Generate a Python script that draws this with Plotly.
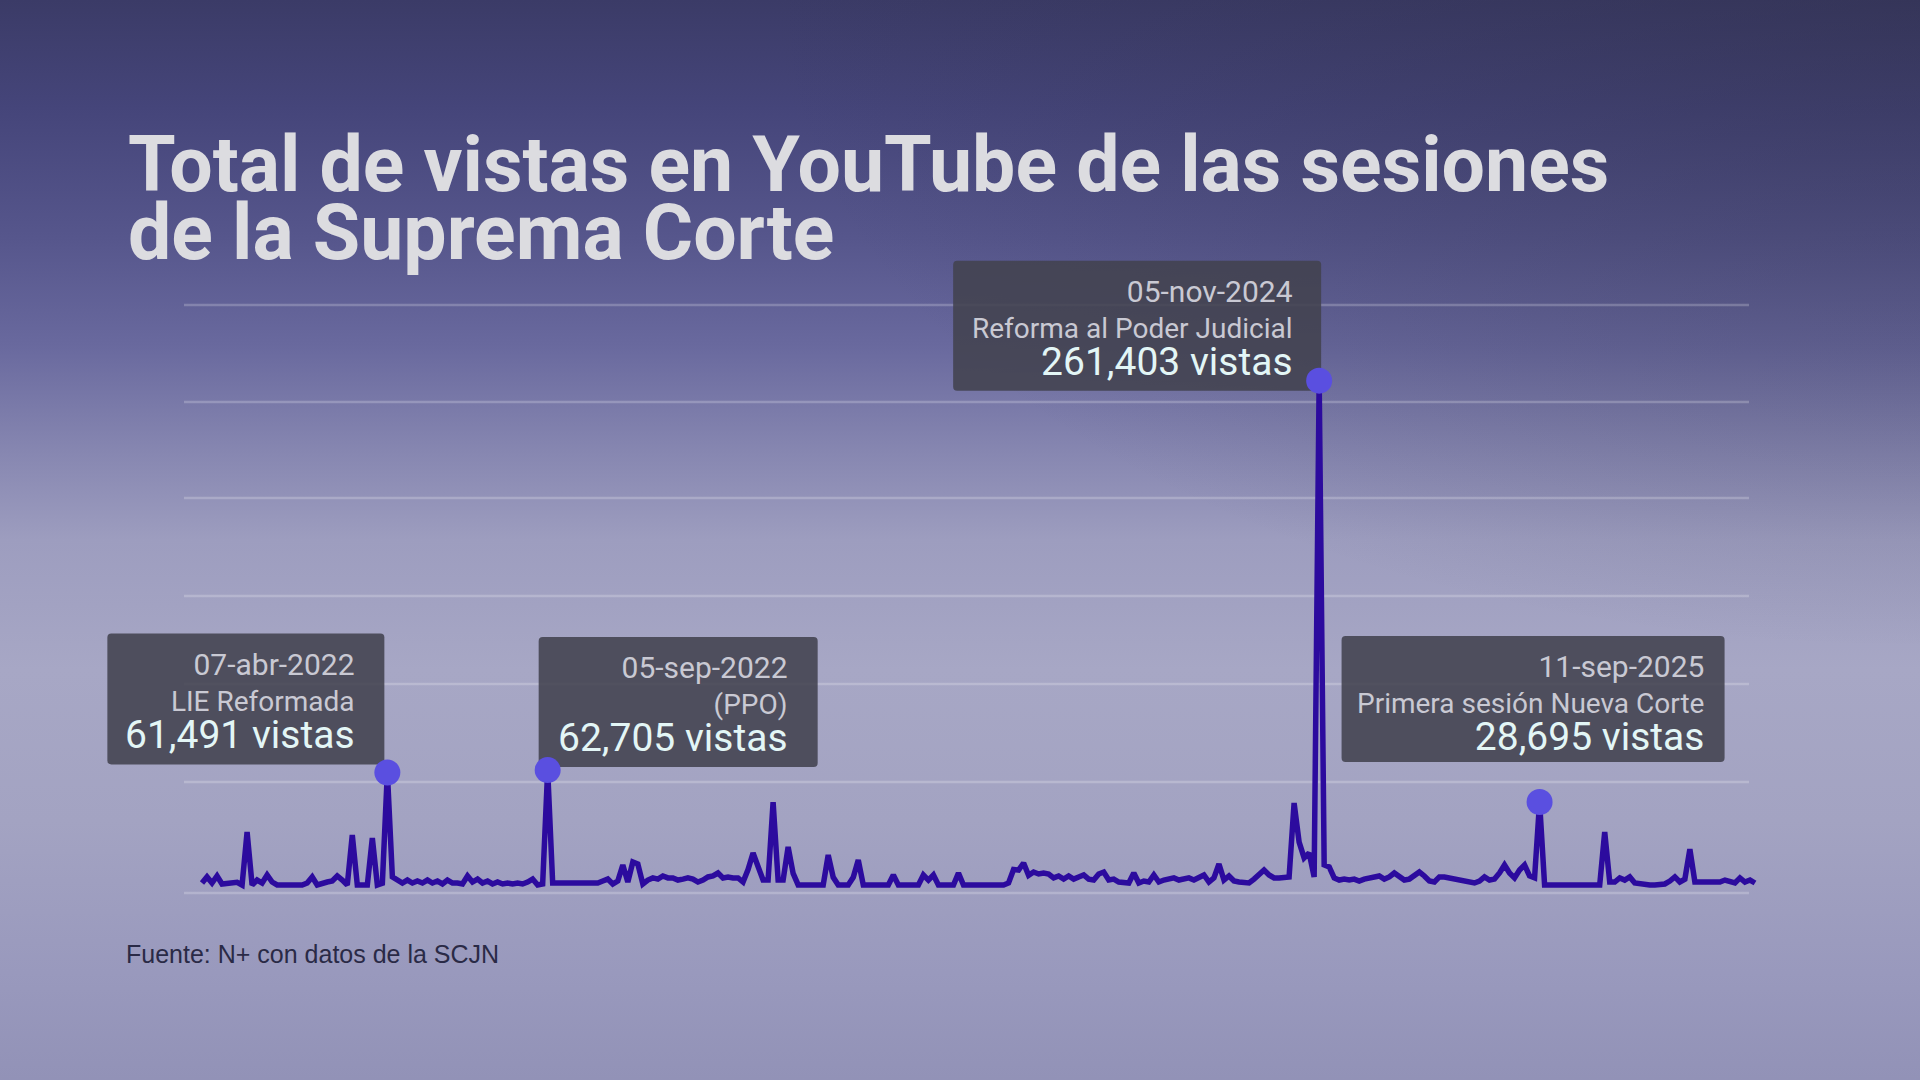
import base64
import plotly.graph_objects as go

# ---------------- data ----------------
views = [
    5100, 8200, 5100, 8700, 4600, 5100, 5600, 5500, 4100, 31100,
    4100, 6600, 5100, 9200, 5600, 4100, 4100, 4100, 4100, 4100,
    4100, 5100, 8200, 4100, 5100, 5600, 6100, 8700, 6600, 4100,
    29600, 4100, 4100, 4100, 28000, 4100, 5000, 61491, 8200, 6600,
    5100, 6600, 5100, 6100, 5100, 6600, 5100, 6100, 4600, 6600,
    5100, 5100, 4600, 8700, 5600, 7100, 5100, 6100, 4600, 5600,
    4600, 5100, 4600, 5100, 4600, 5600, 7100, 4100, 4600, 62705,
    5100, 5100, 5100, 5100, 5100, 5100, 5100, 5100, 5100, 5100,
    6100, 7100, 4600, 6100, 14300, 5600, 15800, 14800, 4600, 6600,
    7700, 7100, 8700, 7700, 7700, 6600, 7100, 7700, 7100, 5600,
    6600, 8200, 8700, 10200, 7700, 8200, 7700, 7700, 5600, 12000,
    20400, 13000, 6600, 6600, 46400, 6600, 6600, 23500, 10000, 4100,
    4100, 4100, 4100, 4100, 4100, 19400, 8000, 4100, 4100, 4100,
    8000, 16800, 4100, 4100, 4100, 4100, 4100, 4100, 9200, 4100,
    4100, 4100, 4100, 4100, 9200, 6600, 9200, 4100, 4100, 4100,
    4100, 10200, 4100, 4100, 4100, 4100, 4100, 4100, 4100, 4100,
    4100, 5100, 12000, 11700, 15300, 9000, 10700, 9700, 10200, 9700,
    7700, 8700, 7100, 8700, 7100, 8200, 9200, 7100, 6600, 9700,
    10700, 6600, 7100, 5600, 5600, 5100, 10200, 5100, 6100, 5600,
    9200, 5600, 6600, 7100, 7700, 6600, 7100, 7700, 6600, 8200,
    9200, 5600, 7700, 14800, 6600, 8700, 6100, 5600, 5600, 5100,
    7100, 9700, 11700, 9200, 7700, 7700, 7700, 8200, 45900, 26000,
    17900, 20400, 8200, 261403, 14300, 13300, 7700, 6600, 7100, 6600,
    7100, 6100, 7100, 7700, 8200, 8700, 7100, 8200, 10200, 8700,
    6600, 7100, 8700, 10700, 8700, 6100, 5600, 8200, 8200, 7700,
    7700, 7100, 6600, 6100, 5100, 6100, 8200, 6600, 7100, 10200,
    14300, 10200, 7700, 11700, 14300, 8700, 7700, 46400, 4100, 4100,
    4100, 4100, 4100, 4100, 4100, 4100, 4100, 4100, 4100, 4100,
    31100, 5600, 5600, 7700, 6600, 8200, 5100, 4600, 4100, 4100,
    4100, 4100, 4600, 6100, 8200, 5600, 7000, 22400, 5600, 5600,
    5600, 5100, 5100, 5600, 6600, 5600, 5100, 7700, 5600, 6600, 5100,
]
session_idx = list(range(len(views)))

hl_idx = [37, 69, 223, 267]
hl_dates = ["07-abr-2022", "05-sep-2022", "05-nov-2024", "11-sep-2025"]
hl_names = ["LIE Reformada", "(PPO)", "Reforma al Poder Judicial", "Primera sesión Nueva Corte"]
hl_totals = ["61,491 vistas", "62,705 vistas", "261,403 vistas", "28,695 vistas"]

grid_levels = [0, 56600, 106600, 151500, 201500, 250500, 300000]

title_lines = ["Total de vistas en YouTube de las sesiones", "de la Suprema Corte"]
source_text = "Fuente: N+ con datos de la SCJN"

# ---------------- layout geometry (pixels) ----------------
W, H = 1920, 1080
LINE_LEFT, LINE_RIGHT = 202, 1755      # first / last session
ZERO_Y, TOP_Y, TOP_VAL = 893, 305, 300000

n = len(views)
x_per_px = (n - 1) / (LINE_RIGHT - LINE_LEFT)
x_range = [-LINE_LEFT * x_per_px, (n - 1) + (W - LINE_RIGHT) * x_per_px]
v_per_px = TOP_VAL / (ZERO_Y - TOP_Y)
y_range = [-(H - ZERO_Y) * v_per_px, TOP_VAL + TOP_Y * v_per_px]


def px_x(xpix):
    return xpix / W


def px_y(ypix):
    return 1 - ypix / H


# label boxes: offsets in pixels relative to highlighted point (x right, y up)
box_dx = [(-280, -3), (-9, 270), (-366, 2), (-198, 185)]
box_dy = [(8, 139), (3, 133), (-10, 120), (40, 166)]
right_pad = [28, 29, 27, 20]
BASE_SIZE = 28          # sets the 36px leading between label rows
DATE_SIZE = 30
TOTAL_SIZE = 39
FIRST_BASELINE = 40     # px below box top

# ---------------- background ----------------
svg = (
    '<svg xmlns="http://www.w3.org/2000/svg" width="1920" height="1080" viewBox="0 0 1920 1080">'
    '<defs>'
    '<linearGradient id="g" x1="0" y1="0" x2="0" y2="1">'
    '<stop offset="0" stop-color="#3b3b67"/>'
    '<stop offset="0.10" stop-color="#45457a"/>'
    '<stop offset="0.22" stop-color="#56568c"/>'
    '<stop offset="0.32" stop-color="#69699e"/>'
    '<stop offset="0.42" stop-color="#8787b1"/>'
    '<stop offset="0.50" stop-color="#9d9dbf"/>'
    '<stop offset="0.62" stop-color="#a7a7c5"/>'
    '<stop offset="0.76" stop-color="#a3a3c2"/>'
    '<stop offset="0.90" stop-color="#9999bd"/>'
    '<stop offset="1" stop-color="#9292b7"/>'
    '</linearGradient>'
    '<radialGradient id="r" cx="1" cy="0" r="0.6">'
    '<stop offset="0" stop-color="#2e2e48" stop-opacity="0.45"/>'
    '<stop offset="1" stop-color="#2e2e48" stop-opacity="0"/>'
    '</radialGradient>'
    '</defs>'
    '<rect width="1920" height="1080" fill="url(#g)"/>'
    '<rect width="1920" height="1080" fill="url(#r)"/>'
    '</svg>'
)
bg_src = "data:image/svg+xml;base64," + base64.b64encode(svg.encode()).decode()

fig = go.Figure()

fig.add_trace(go.Scatter(
    x=session_idx, y=views, mode="lines",
    line=dict(color="#2c0b9e", width=5.5),
    hoverinfo="skip", cliponaxis=False,
))
fig.add_trace(go.Scatter(
    x=hl_idx, y=[views[i] for i in hl_idx], mode="markers",
    marker=dict(color="#5a4fe0", size=26),
    hoverinfo="skip", cliponaxis=False,
))

shapes = []
for g in grid_levels:
    shapes.append(dict(
        type="line", xref="paper", yref="y",
        x0=px_x(184), x1=px_x(1749), y0=g, y1=g,
        line=dict(color="rgba(255,255,255,0.22)", width=2.5),
        layer="below",
    ))


def rounded(x0, x1, yb, yt, r=4):
    return (f"M{x0 + r},{yb} L{x1 - r},{yb} Q{x1},{yb} {x1},{yb + r} "
            f"L{x1},{yt - r} Q{x1},{yt} {x1 - r},{yt} L{x0 + r},{yt} "
            f"Q{x0},{yt} {x0},{yt - r} L{x0},{yb + r} Q{x0},{yb} {x0 + r},{yb} Z")


annotations = []
for k, i in enumerate(hl_idx):
    xv, yv = session_idx[i], views[i]
    dx0, dx1 = box_dx[k]
    yb, yt = box_dy[k]
    shapes.append(dict(
        type="path", xref="x", yref="y",
        xsizemode="pixel", ysizemode="pixel",
        xanchor=xv, yanchor=yv,
        path=rounded(dx0, dx1, yb, yt),
        fillcolor="rgba(66,66,78,0.88)", line=dict(width=0),
        layer="below",
    ))
    label = (f"<span style='font-size:{DATE_SIZE}px'>{hl_dates[k]}</span><br>"
             f"{hl_names[k]}<br>"
             f"<span style='font-size:{TOTAL_SIZE}px;color:#e3f6f6'>{hl_totals[k]}</span>")
    annotations.append(dict(
        x=xv, y=yv, xref="x", yref="y",
        text=label, showarrow=False, align="right",
        xanchor="right", yanchor="top",
        xshift=dx1 - right_pad[k],
        yshift=yt - (FIRST_BASELINE - 0.928 * DATE_SIZE),
        font=dict(family="Roboto", size=BASE_SIZE, color="#c9c9d3"),
        borderpad=0,
    ))

# title: base font 52 gives the tight 67px leading of the original
title_html = "<br>".join(f"<span style='font-size:77px'><b>{t}</b></span>" for t in title_lines)
annotations.append(dict(
    x=px_x(127), y=px_y(190 - 0.928 * 77), xref="paper", yref="paper",
    text=title_html, showarrow=False, xanchor="left", yanchor="top", align="left",
    font=dict(family="Roboto", size=52, color="#dcdce0"), borderpad=0,
))

annotations.append(dict(
    x=px_x(125), y=px_y(963 - 0.35 * 25), xref="paper", yref="paper",
    text=source_text, showarrow=False, xanchor="left", yanchor="middle",
    font=dict(family="Liberation Sans", size=25, color="#2a2a46"), borderpad=0,
))

fig.update_layout(
    width=W, height=H,
    margin=dict(l=0, r=0, t=0, b=0, pad=0),
    paper_bgcolor="#9090b5", plot_bgcolor="rgba(0,0,0,0)",
    showlegend=False,
    xaxis=dict(range=x_range, visible=False, fixedrange=True),
    yaxis=dict(range=y_range, visible=False, fixedrange=True),
    shapes=shapes, annotations=annotations,
    images=[dict(
        source=bg_src, xref="paper", yref="paper",
        x=0, y=1, sizex=1, sizey=1,
        xanchor="left", yanchor="top", sizing="stretch", layer="below",
    )],
)

fig.write_html(
    "out.html",
    config={"displayModeBar": False},
    post_script="document.body.style.margin='0';document.body.style.overflow='hidden';",
)
